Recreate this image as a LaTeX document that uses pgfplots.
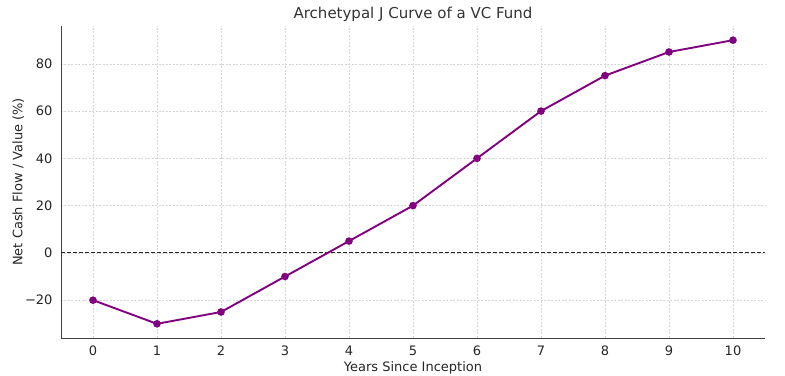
\documentclass[border=0pt]{standalone}
\usepackage{fontspec}
\setmainfont{DejaVu Sans}
\usepackage{pgfplots}
\pgfplotsset{compat=1.18}
\definecolor{linepurple}{RGB}{128,0,128}
\begin{document}
\begin{tikzpicture}
\begin{axis}[
  scale only axis, width=704pt, height=312pt,
  xmin=-0.5, xmax=10.5, ymin=-36, ymax=96,
  xtick={0,1,2,3,4,5,6,7,8,9,10},
  ytick={-20,0,20,40,60,80},
  yticklabels={−20,0,20,40,60,80},
  /pgf/number format/assume math mode=true,
  axis x line*=bottom, axis y line*=left,
  axis line style={black!75, line width=0.9pt, -},
  major tick length=0pt,
  grid=major,
  grid style={black!16, dashed, line width=0.5pt, dash pattern=on 2pt off 1.5pt},
  tick label style={font=\fontsize{13}{15}\selectfont, text=black!85},
  xticklabel style={yshift=-4pt},
  yticklabel style={xshift=-5pt},
  title={Archetypal J Curve of a VC Fund},
  title style={font=\fontsize{15}{17}\selectfont, text=black!80, yshift=-5pt},
  xlabel={Years Since Inception},
  ylabel={Net Cash Flow / Value (\%)},
  label style={font=\fontsize{13}{15}\selectfont, text=black!85},
  xlabel style={yshift=1pt},
  ylabel style={yshift=-6pt},
  clip=false,
]
\addplot[black!85, dashed, line width=0.9pt, dash pattern=on 4pt off 2pt, forget plot] coordinates {(-0.5,0) (10.5,0)};
\addplot[linepurple, line width=1.9pt, mark=*, mark size=2.8pt, mark options={fill=linepurple, draw=linepurple}] coordinates {
(0,-20) (1,-30) (2,-25) (3,-10) (4,5) (5,20) (6,40) (7,60) (8,75) (9,85) (10,90)
};
\end{axis}
\pgfresetboundingbox
\useasboundingbox ([shift={(-61pt,-38pt)}]current axis.south west) rectangle ([shift={(20pt,26pt)}]current axis.north east);
\end{tikzpicture}
\end{document}
